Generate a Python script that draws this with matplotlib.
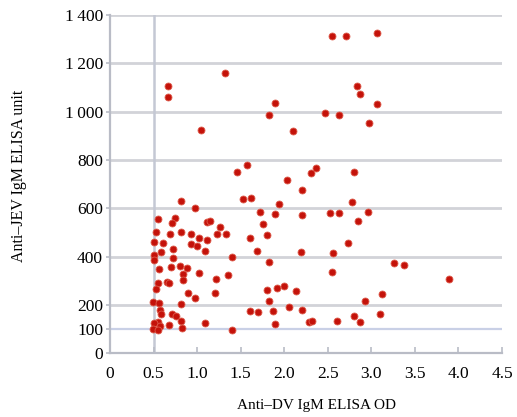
import matplotlib
matplotlib.use("Agg")
import matplotlib.pyplot as plt

# Anti-DV IgM ELISA OD (x) vs Anti-JEV IgM ELISA unit (y)
od = [0.66, 0.67, 1.32, 1.04, 1.89, 1.83, 2.10, 1.57, 1.46, 2.03, 2.20, 2.31, 2.37,
      2.55, 2.71, 3.06, 2.83, 2.87, 3.06, 2.47, 2.63, 2.97, 2.80,
      2.78, 2.20, 2.52, 2.63, 2.96, 2.85, 2.73, 2.19, 2.56, 3.26, 3.38, 2.55, 3.89,
      3.12, 2.93, 2.20, 2.13, 2.80, 3.10, 2.28, 2.32, 2.61, 2.87,
      1.53, 1.62, 1.72, 1.89, 1.94, 1.76, 1.80, 1.61, 1.69, 1.82, 1.40, 1.36,
      1.11, 1.15, 1.26, 1.23, 1.33, 1.80, 1.92, 2.00, 1.83, 1.61, 1.70, 1.87, 2.06,
      1.89, 1.40, 1.22, 1.21,
      0.82, 0.97, 0.55, 0.75, 0.71, 0.53, 0.69, 0.81, 0.93, 1.02, 1.11, 0.50, 0.61,
      0.93, 1.00, 1.09, 0.59, 0.72, 0.50, 0.51, 0.72, 0.56, 0.70, 0.80, 0.88, 1.02,
      0.84, 0.84, 0.65, 0.68, 0.55, 0.53, 0.89, 0.98, 0.81, 0.49, 0.56, 0.57, 0.58,
      0.71, 0.76, 0.55, 0.51, 0.57, 0.68, 0.82, 0.83, 0.49, 1.09, 0.55]
jev = [1105, 1060, 1160, 925, 1035, 985, 920, 780, 750, 718, 676, 745, 768,
       1315, 1315, 1326, 1106, 1073, 1033, 993, 985, 952, 752,
       625, 572, 579, 579, 586, 549, 455, 421, 416, 375, 365, 335, 309,
       244, 216, 179, 257, 156, 163, 131, 135, 134, 128,
       637, 644, 586, 575, 617, 534, 488, 477, 425, 378, 397, 324,
       543, 548, 524, 493, 493, 260, 270, 280, 216, 177, 170, 177, 192,
       123, 96, 308, 248,
       632, 603, 556, 558, 539, 500, 492, 504, 494, 477, 467, 459, 455,
       451, 442, 425, 421, 430, 405, 386, 394, 350, 359, 363, 351, 334,
       328, 303, 297, 289, 289, 268, 248, 229, 202, 214, 209, 181, 161,
       163, 154, 131, 124, 111, 116, 134, 103, 99, 127, 96]

xticks = [0, 0.5, 1.0, 1.5, 2.0, 2.5, 3.0, 3.5, 4.0, 4.5]
xticklabels = ["0", "0.5", "1.0", "1.5", "2.0", "2.5", "3.0", "3.5", "4.0", "4.5"]
yticks = [0, 100, 200, 400, 600, 800, 1000, 1200, 1400]
yticklabels = ["0", "100", "200", "400", "600", "800", "1\u2009000", "1\u2009200", "1\u2009400"]

plt.rcParams['font.family'] = ['Liberation Serif', 'DejaVu Serif']

fig = plt.figure(figsize=(5.17, 4.17), dpi=100)
ax = fig.add_axes([0.2128, 0.1528, 0.971 - 0.2128, 0.964 - 0.1528])
ax.set_xlim(0, 4.5)
ax.set_ylim(0, 1400)

for v in [200, 400, 600, 800, 1000, 1200, 1400]:
    ax.axhline(v, color='#d2d3d8', lw=2.0, zorder=1)
ax.axhline(100, color='#c9d0e6', lw=1.6, zorder=1)
ax.axvline(0.5, color='#c4c8d4', lw=1.8, zorder=1)

ax.scatter(od, jev, s=25, c='#c4120a', edgecolors='#dd5a4a', linewidths=0.6, zorder=3)

for s in ['top', 'right']:
    ax.spines[s].set_visible(False)
for s in ['left', 'bottom']:
    ax.spines[s].set_color('#b9bcc6')
    ax.spines[s].set_linewidth(1.6)

ax.set_xticks(xticks)
ax.set_xticklabels(xticklabels)
ax.set_yticks(yticks)
ax.set_yticklabels(yticklabels)
ax.tick_params(axis='x', direction='in', length=4, width=1.2, color='#b9bcc6',
               labelsize=12.5, pad=9)
ax.tick_params(axis='y', direction='out', length=3, width=1.2, color='#b9bcc6',
               labelsize=12.5, pad=2)

ax.set_xlabel("Anti\u2013DV IgM ELISA OD", fontsize=11)
ax.set_ylabel("Anti\u2013JEV IgM ELISA unit", fontsize=11.5)
ax.xaxis.set_label_coords(0.526, -0.135)
ax.yaxis.set_label_coords(-0.212, 0.523)

fig.savefig("out.png", dpi=100)
